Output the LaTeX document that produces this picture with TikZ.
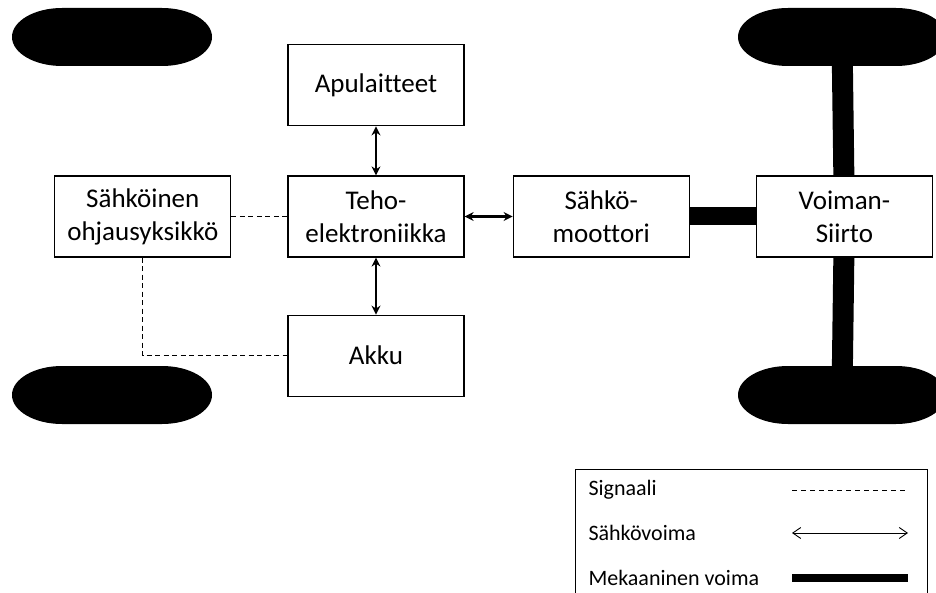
\documentclass[tikz,border=0pt]{standalone}
\usepackage{fontspec}
\setmainfont{Carlito}[Ligatures=NoCommon]
\usepackage{tikz}
\usetikzlibrary{arrows.meta, positioning}

\begin{document}
\begin{tikzpicture}[x=1pt, y=-1pt]
        % Define block styles
        \tikzstyle{blokki} = [rectangle, draw, line width=1.2pt, fill=white, minimum width=176pt, minimum height=81pt, inner sep=0pt, align=center, font=\fontsize{27}{33}\selectfont]
        \tikzstyle{signaali} = [draw, line width=0.9pt, dash pattern=on 5pt off 3.5pt]
        \tikzstyle{sahko} = [draw, line width=2.4pt, {Stealth[length=9pt, width=9pt]}-{Stealth[length=9pt, width=9pt]}]
        \tikzstyle{mekaaninen} = [draw, line width=18pt]
        \tikzstyle{selite} = [anchor=west, font=\fontsize{22}{26}\selectfont]

        \useasboundingbox (0,0) rectangle (936,593);

        % Define nodes
        \node [blokki] at (376,216.5) (teho) {Teho-\\elektroniikka};
        \node [blokki, above=49pt of teho] (apu) {Apulaitteet};
        \node [blokki, below=57pt of teho] (akku) {Akku};
        \node [blokki, left=56pt of teho] (ohjaus) {Sähköinen\\ohjausyksikkö};
        \node [blokki, right=48pt of teho] (moottori) {Sähkö-\\moottori};
        \node [blokki, right=66pt of moottori] (siirto) {Voiman-\\Siirto};

        % Wheels
        \coordinate (rengasVY) at (112,37);
        \coordinate (rengasVA) at (112,395);
        \coordinate (rengasOY) at (842,37);
        \coordinate (rengasOA) at (842,395);

        % Mechanical power
        \path [mekaaninen, line width=21pt] (siirto) -- (rengasOY);
        \path [mekaaninen, line width=21pt] (siirto) -- (rengasOA);
        \path [mekaaninen] (moottori) -- (siirto);
        \foreach \r/\s in {rengasVY/100, rengasVA/100, rengasOY/108, rengasOA/108}
            \fill (\r) ++({-\s/2},-29) -- ++(\s,0) arc [start angle=-90, end angle=90, x radius=50, y radius=29]
                -- ++(-\s,0) arc [start angle=90, end angle=270, x radius=50, y radius=29] -- cycle;

        % Connect nodes with paths
        \path [sahko] (apu) -- (teho);
        \path [sahko] (teho) -- (akku);
        \path [sahko] (teho) -- (moottori);
        \path [signaali] (ohjaus) -- (teho);
        \path [signaali] (ohjaus) |- (akku);

        % Legend
        \node [draw, line width=1.2pt, minimum width=352pt, minimum height=140pt, anchor=north west] at (575,469) (legenda) {};
        \node [selite] at (585,490) (lSig) {Signaali};
        \node [selite] at (585,533) (lSah) {Sähkövoima};
        \node [selite] at (585,578) (lMek) {Mekaaninen voima};
        \coordinate (sigA) at (792,490);
        \coordinate (sigB) at (908,490);
        \coordinate (sahA) at (792,533);
        \coordinate (sahB) at (908,533);
        \coordinate (mekA) at (792,578);
        \coordinate (mekB) at (908,578);
        \path [signaali, line width=0.8pt, dash pattern=on 5pt off 4pt] (sigA) -- (sigB);
        \path [draw, line width=0.9pt, {Straight Barb[length=8pt, width=11pt]}-{Straight Barb[length=8pt, width=11pt]}] (sahA) -- (sahB);
        \path [mekaaninen, line width=8pt] (mekA) -- (mekB);

    \end{tikzpicture}
\end{document}
